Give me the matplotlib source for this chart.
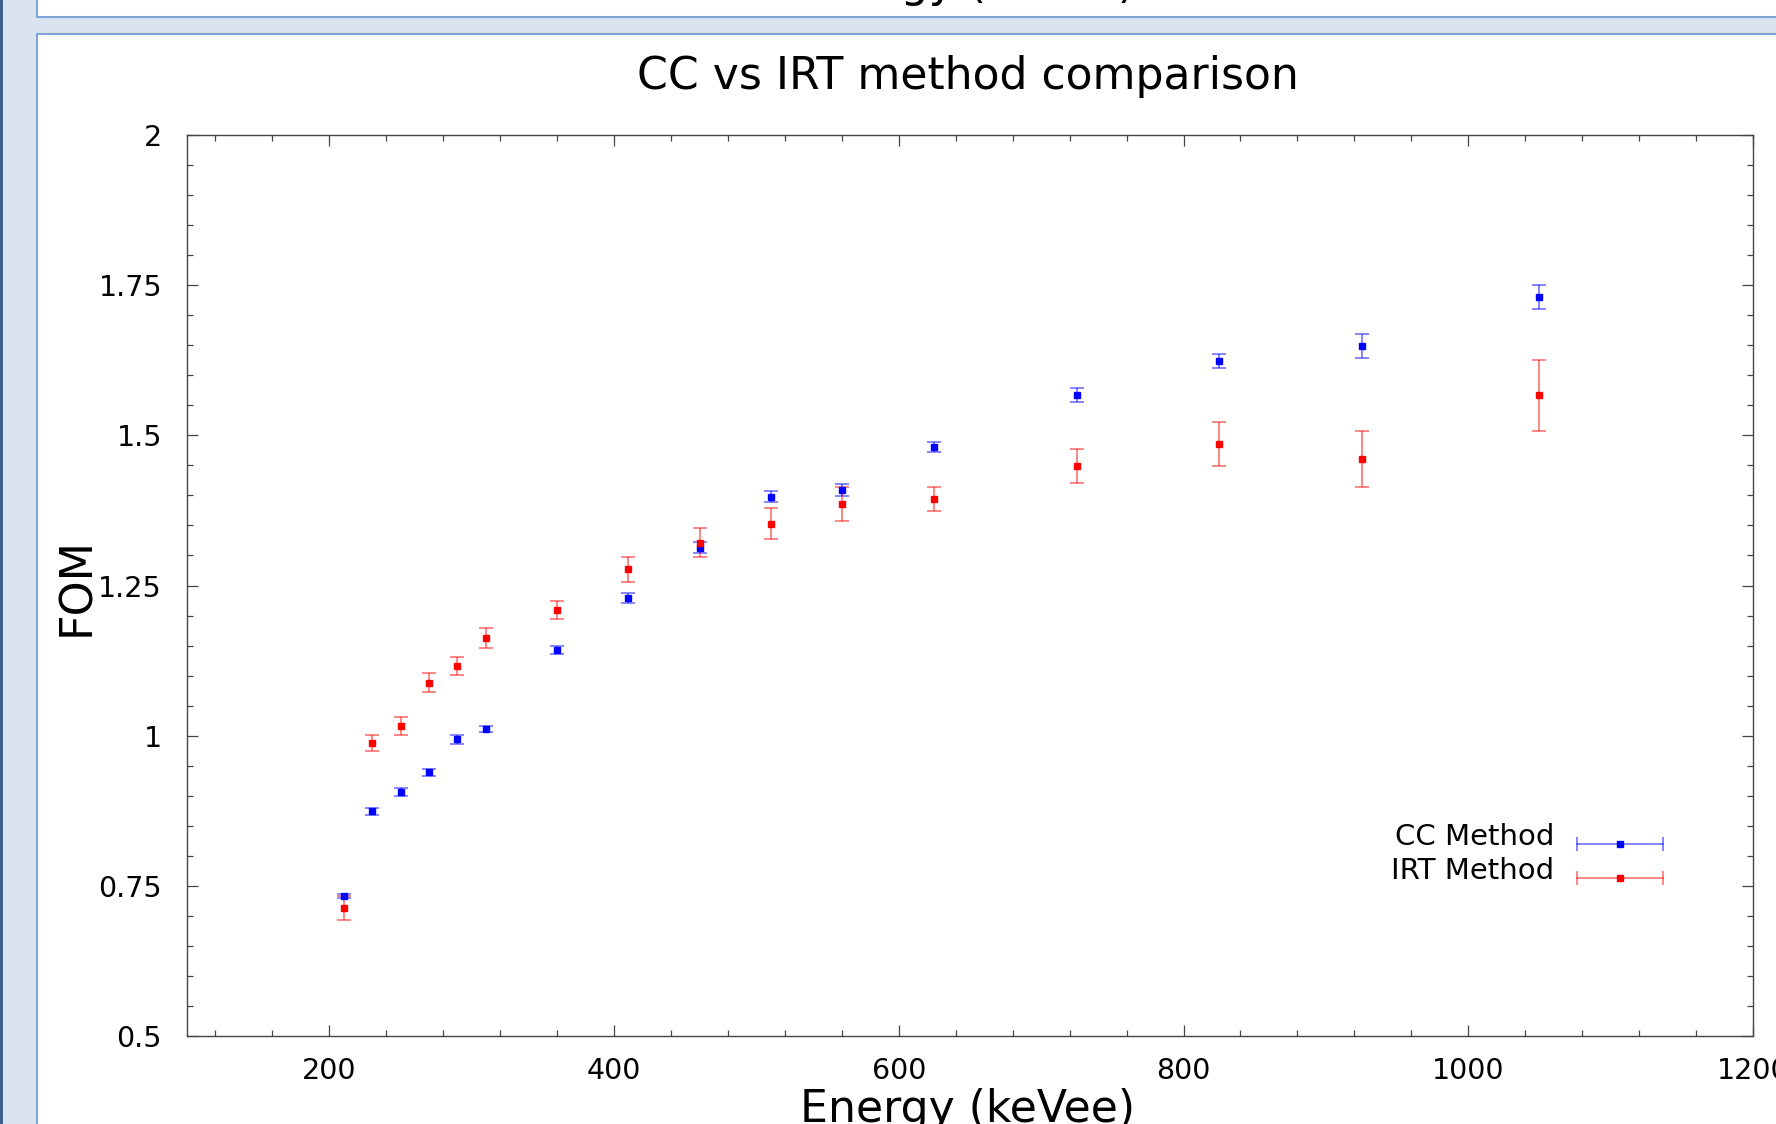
import matplotlib
matplotlib.use("Agg")
import matplotlib.pyplot as plt
from matplotlib.patches import Rectangle
from matplotlib.ticker import MultipleLocator, FormatStrFormatter
import numpy as np

# energy bins (keVee)
energy = [210, 230, 250, 270, 290, 310, 360, 410, 460, 510, 560, 625, 725, 825, 925, 1050]

# FOM values and errors
cc_fom = [0.733, 0.874, 0.906, 0.939, 0.994, 1.011, 1.143, 1.229, 1.313, 1.398, 1.409, 1.480, 1.567, 1.624, 1.649, 1.730]
cc_err = [0.004, 0.0055, 0.0064, 0.0055, 0.0075, 0.0055, 0.0064, 0.0086, 0.0086, 0.009, 0.010, 0.0083, 0.012, 0.012, 0.020, 0.020]
irt_fom = [0.713, 0.988, 1.016, 1.088, 1.116, 1.162, 1.209, 1.277, 1.321, 1.353, 1.386, 1.394, 1.449, 1.486, 1.461, 1.567]
irt_err = [0.020, 0.013, 0.0147, 0.0158, 0.0155, 0.0166, 0.0155, 0.021, 0.024, 0.026, 0.028, 0.0205, 0.029, 0.037, 0.047, 0.059]

series_names = ["CC Method", "IRT Method"]
series_colors = ["#0000ff", "#ff0000"]

W, H = 1776, 1124
bg = "#dae4f1"
edge = "#7fa3d4"

fig = plt.figure(figsize=(W / 100, H / 100), dpi=100, facecolor=bg)

# window decoration: dark strip on the left, two white panels
fig.patches.append(Rectangle((0, 0), 2.5 / W, 1, transform=fig.transFigure,
                             facecolor="#3d5f91", edgecolor="none", zorder=0))
fig.patches.append(Rectangle((37 / W, 1 - 17 / H), 1, 0.5, transform=fig.transFigure,
                             facecolor="white", edgecolor=edge, linewidth=1.5, zorder=0))
fig.patches.append(Rectangle((37 / W, -0.5), 1, 1.5 - 34 / H, transform=fig.transFigure,
                             facecolor="white", edgecolor=edge, linewidth=1.5, zorder=0))

ax = fig.add_axes([187 / W, 1 - 1036 / H, (1753 - 187) / W, (1036 - 135) / H])
ax.set_zorder(2)
ax.set_facecolor("white")

for x_vals, y_vals, errs, col in [(energy, cc_fom, cc_err, series_colors[0]),
                                  (energy, irt_fom, irt_err, series_colors[1])]:
    ax.errorbar(x_vals, y_vals, yerr=errs, fmt="s", color=col, markersize=3.8,
                ecolor=matplotlib.colors.to_rgba(col, 0.6), elinewidth=1.1,
                capsize=4.7, capthick=1.1, zorder=3)

ax.set_xlim(100, 1200)
ax.set_ylim(0.5, 2)
ax.xaxis.set_major_locator(MultipleLocator(200))
ax.xaxis.set_minor_locator(MultipleLocator(40))
ax.yaxis.set_major_locator(MultipleLocator(0.25))
ax.yaxis.set_minor_locator(MultipleLocator(0.05))
ax.yaxis.set_major_formatter(FormatStrFormatter("%g"))

for s in ax.spines.values():
    s.set_color("#444444")
    s.set_linewidth(1.0)
ax.tick_params(which="both", direction="in", top=True, right=True, color="#444444", width=0.9)
ax.tick_params(which="major", length=8)
ax.tick_params(which="minor", length=4.3)
ax.tick_params(axis="x", which="major", labelsize=20.5, pad=15)
ax.tick_params(axis="y", which="major", labelsize=20.5, pad=18)

# legend drawn like gnuplot's key: label then horizontal error bar sample
leg_y_text = [0.2209, 0.1831]
leg_y_line = [0.2131, 0.1754]
for name, col, yt, yl in zip(series_names, series_colors, leg_y_text, leg_y_line):
    ax.text(0.873, yt, name, transform=ax.transAxes, ha="right", va="center", fontsize=21)
    ecol = matplotlib.colors.to_rgba(col, 0.6)
    ax.plot([0.8876, 0.9425], [yl, yl], transform=ax.transAxes, color=ecol, lw=1.1)
    ax.plot([0.8876, 0.9425], [yl, yl], transform=ax.transAxes, ls="none",
            marker="|", markersize=9.4, markeredgewidth=1.1, color=ecol)
    ax.plot([0.915], [yl], transform=ax.transAxes, ls="none", marker="s",
            markersize=3.8, color=col)

fig.text(968 / W, 1 - 76 / H, "CC vs IRT method comparison", ha="center", va="center", fontsize=31.8)
fig.text(77 / W, 1 - 586 / H, "FOM", rotation=90, ha="center", va="center", fontsize=32)
fig.text(968 / W, 2 / H, "Energy (keVee)", ha="center", va="baseline", fontsize=31.8)
# x label of the panel above, mostly cut off by the window
fig.text(968 / W, 1 + 3 / H, "Energy (keVee)", ha="center", va="baseline", fontsize=31.8)

fig.savefig("out.png", dpi=100, facecolor=bg)
